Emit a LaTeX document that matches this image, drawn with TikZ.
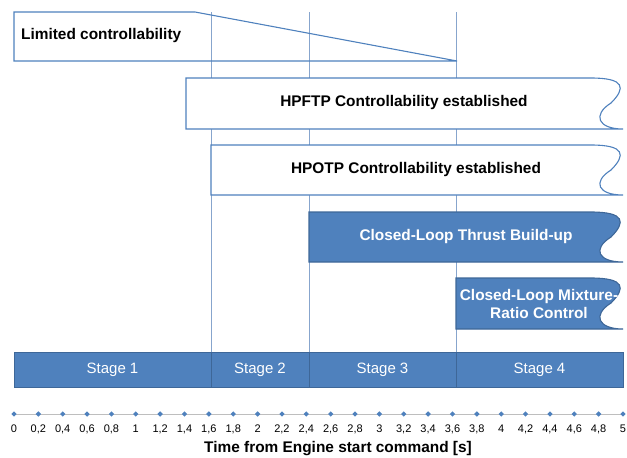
\documentclass[tikz,border=0pt]{standalone}
\usepackage{fontspec}
\setmainfont{Liberation Sans}
\usepackage{tikz}
\definecolor{chartBlue}{RGB}{79,129,189}
\definecolor{chartEdge}{RGB}{62,103,152}
\definecolor{gridBlue}{RGB}{135,165,205}
\definecolor{axisGray}{RGB}{190,190,190}
\usetikzlibrary{shapes, positioning}
\tikzstyle{stage} = [draw=chartEdge, fill=chartBlue, text=white, rectangle, minimum height=35pt, inner sep=0pt, outer sep=0pt, line width=0.9pt, font=\fontsize{15}{18}\selectfont]
\tikzstyle{phase} = [font=\fontsize{15.4}{18}\selectfont\bfseries, inner sep=0pt]
\tikzstyle{openBox} = [draw=chartBlue, fill=white, line width=1.1pt]
\tikzstyle{fullBox} = [draw=chartEdge, fill=chartBlue, line width=1.1pt]
\tikzstyle{grid} = [draw=gridBlue, line width=0.6pt]
\tikzstyle{tick} = [diamond, fill=chartBlue, inner sep=0pt, minimum size=5.5pt]
\tikzstyle{tickLabel} = [font=\fontsize{11}{13}\selectfont, inner sep=0pt]
% box with a wavy right end: style, left, top, bottom
\newcommand{\wavyBox}[4]{\draw [#1] (#2,#3) -- (591,#3) .. controls (625,#3) and (626,#3+10) .. (611,#3+25) .. controls (592,#3+37) and (598,#4) .. (623,#4) -- (#2,#4) -- cycle;}

\begin{document}
\begin{tikzpicture}[x=1pt, y=-1pt]
        \useasboundingbox (0,0) rectangle (627,458);
        % We start by placing the stages
        \node [stage, anchor=west, minimum width=197pt] (stageOne) at (14,369.5) {Stage 1};
        \node [stage, right=0pt of stageOne, minimum width=98pt] (stageTwo) {Stage 2};
        \node [stage, right=0pt of stageTwo, minimum width=147pt] (stageThree) {Stage 3};
        \node [stage, right=0pt of stageThree, minimum width=167pt] (stageFour) {Stage 4};
        \coordinate (chartTop) at (14,12);

        \begin{scope}
            \draw [grid] (stageTwo.north west) -- (stageTwo.north west |- chartTop);
            \draw [grid] (stageThree.north west) -- (stageThree.north west |- chartTop);
            \draw [grid] (stageFour.north west) -- (stageFour.north west |- chartTop);
        \end{scope}

        % The phases above the stages
        \draw [openBox, fill=none] (chartTop) -- (195,12) -- (457,61) -- (14,61) -- cycle;
        \node [phase, anchor=west] (limited) at (21,36) {Limited controllability};
        \wavyBox{openBox}{186}{78}{129}
        \node [phase] (hpftp) at (404,103) {HPFTP Controllability established};
        \wavyBox{openBox}{211}{145}{195}
        \node [phase] (hpotp) at (416,170) {HPOTP Controllability established};
        \wavyBox{fullBox}{309}{212}{262}
        \node [phase, text=white] (thrust) at (466,237) {Closed-Loop Thrust Build-up};
        \wavyBox{fullBox}{456}{278}{329}
        \node [phase, text=white, align=center, font=\fontsize{15.4}{18}\selectfont\bfseries] (mixture) at (539,304) {Closed-Loop Mixture-\\Ratio Control};

        % Once the stages are placed, the time axis goes below
        \coordinate (axisStart) at (14,414);
        \coordinate (axisEnd) at (623,414);
        \draw [axisGray, line width=1pt] (axisStart) -- (axisEnd);
        \foreach \i in {0,...,25} {
            \pgfmathsetmacro{\t}{\i*0.2}
            \node [tick] (tick\i) at (14+\i*24.36,414) {};
            \node [tickLabel] at ([yshift=-15pt]tick\i.center) {\pgfmathprintnumber[use comma,fixed,precision=1,assume math mode=true]{\t}};
        }
        \node [phase] (axisTitle) at (338,449) {Time from Engine start command [s]};
    \end{tikzpicture}
\end{document}
